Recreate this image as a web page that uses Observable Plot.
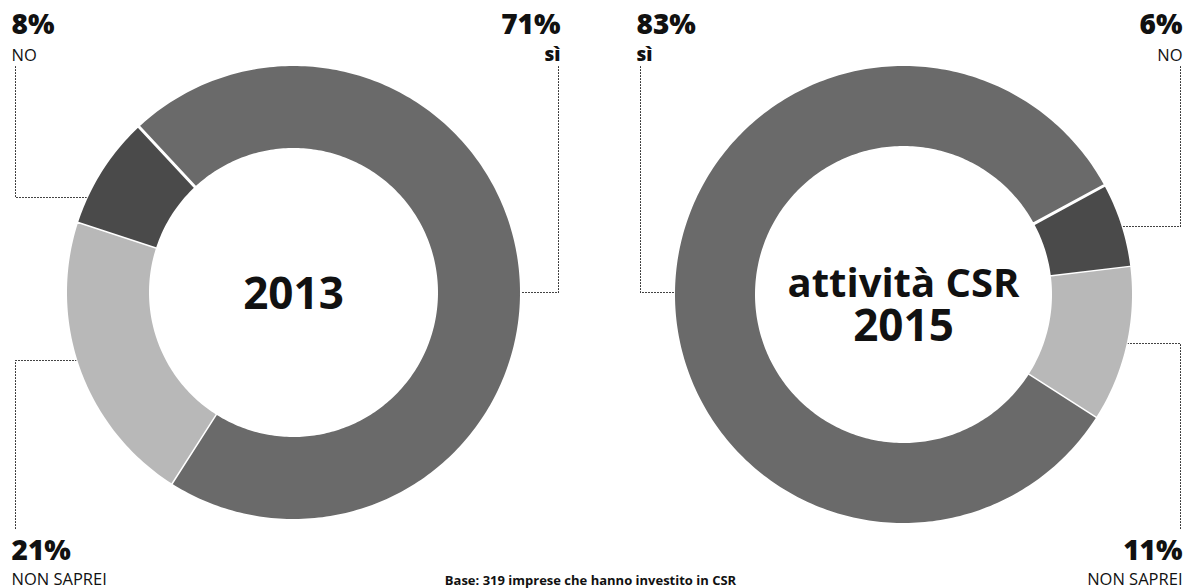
<!DOCTYPE html>
<html>
<head>
<meta charset="utf-8">
<script src="https://cdn.jsdelivr.net/npm/d3@7"></script>
<script src="https://cdn.jsdelivr.net/npm/@observablehq/plot@0.6"></script>
<style>
  html, body { margin: 0; padding: 0; background: #fff; }
  #chart svg { display: block; }
</style>
</head>
<body>
<div id="chart"></div>
<script>
// ---- data ----
const categories = ["sì", "NON SAPREI", "NO"];
const years = ["2013", "2015"];
const values2013 = [71, 21, 8];   // sì, NON SAPREI, NO
const values2015 = [83, 11, 6];   // sì, NON SAPREI, NO
const centerLabels = ["2013", "attività CSR\n2015"];
const caption = "Base: 319 imprese che hanno investito in CSR";

// ---- layout / style (kept apart from data) ----
const W = 1186, H = 588;
const colors = {"sì": "#6a6a6a", "NON SAPREI": "#b8b8b8", "NO": "#4a4a4a"};
const donutLayout = [
  {cx: 293, cy: 292, R: 228, r: 143, start: -43, order: ["sì", "NON SAPREI", "NO"]},
  {cx: 903, cy: 294, R: 230, r: 147, start: 61.5, order: ["NO", "NON SAPREI", "sì"]}
];
// label placement per donut & category
const labelLayout = [
  {
    "NO":         {x: 11,  anchor: "start", top: true,  lx: 15,  ly: 197, side: -1},
    "sì":         {x: 560, anchor: "end",   top: true,  lx: 558, ly: 292, side: 1},
    "NON SAPREI": {x: 11,  anchor: "start", top: false, lx: 15,  ly: 360, side: -1}
  },
  {
    "sì":         {x: 636, anchor: "start", top: true,  lx: 640,  ly: 292, side: -1},
    "NO":         {x: 1182, anchor: "end",  top: true,  lx: 1180, ly: 226, side: 1},
    "NON SAPREI": {x: 1182, anchor: "end",  top: false, lx: 1180, ly: 343, side: 1}
  }
];
const pctBaselineTop = 33, nameBaselineTop = 60;
const pctBaselineBottom = 559, nameBaselineBottom = 584;
const leaderTop = 66, leaderBottom = 528;

// ---- build geometry from the data ----
const allValues = [values2013, values2015];
const arcPoints = [];
const leaders = [];
const pctLabels = [];
const nameLabels = [];

years.forEach((year, i) => {
  const L = donutLayout[i];
  const vals = allValues[i];
  const total = d3.sum(vals);
  let a = L.start;
  for (const cat of L.order) {
    const v = vals[categories.indexOf(cat)];
    const span = v / total * 360;
    const a0 = a, a1 = a + span;
    const key = year + "-" + cat;
    const n = Math.max(2, Math.ceil(span));
    const toXY = (ang, rad) => {
      const t = ang * Math.PI / 180;
      return {x: L.cx + rad * Math.sin(t), y: L.cy - rad * Math.cos(t)};
    };
    for (let k = 0; k <= n; k++) arcPoints.push({key, fill: colors[cat], ...toXY(a0 + (a1 - a0) * k / n, L.R)});
    for (let k = n; k >= 0; k--) arcPoints.push({key, fill: colors[cat], ...toXY(a0 + (a1 - a0) * k / n, L.r)});
    a = a1;

    // labels
    const lab = labelLayout[i][cat];
    pctLabels.push({x: lab.x, y: lab.top ? pctBaselineTop : pctBaselineBottom, text: v + "%", anchor: lab.anchor});
    nameLabels.push({x: lab.x, y: lab.top ? nameBaselineTop : nameBaselineBottom, text: cat, anchor: lab.anchor});

    // leader: vertical from the label, then horizontal to the ring's outer edge
    const ex = L.cx + lab.side * Math.sqrt(L.R * L.R - (lab.ly - L.cy) ** 2);
    const vy = lab.top ? leaderTop : leaderBottom;
    leaders.push({key, x: lab.lx, y: vy});
    leaders.push({key, x: lab.lx, y: lab.ly});
    leaders.push({key, x: ex, y: lab.ly});
  }
});

// center labels, one row per line
const centerLineGap = 42;
const centers = [];
years.forEach((year, i) => {
  const lines = centerLabels[i].split("\n");
  lines.forEach((t, j) => {
    centers.push({
      x: donutLayout[i].cx,
      y: donutLayout[i].cy + 2 + (j - (lines.length - 1) / 2) * centerLineGap + (lines.length > 1 ? 9 : 0),
      text: t,
      size: /^\d+$/.test(t) ? 44 : 40
    });
  });
});

const font = "'Open Sans', 'Liberation Sans', sans-serif";
const isBoldName = d => d.text === "sì";

const chart = Plot.plot({
  width: W,
  height: H,
  margin: 0,
  x: {domain: [0, W], range: [0, W], axis: null},
  y: {domain: [0, H], range: [0, H], axis: null},
  color: {type: "identity"},
  style: {fontFamily: font, background: "#fff", color: "#111"},
  marks: [
    Plot.line(arcPoints, {x: "x", y: "y", z: "key", fill: "fill", stroke: "#fff", strokeWidth: 3, curve: "linear"}),
    Plot.line(leaders, {x: "x", y: "y", z: "key", stroke: "#333", strokeWidth: 1.1, strokeDasharray: "1 2", curve: "linear"}),
    Plot.text(pctLabels.filter(d => d.anchor === "start"), {x: "x", y: "y", text: "text", textAnchor: "start", lineAnchor: "bottom", fontSize: 28, fontWeight: 800, fill: "#111"}),
    Plot.text(pctLabels.filter(d => d.anchor === "end"), {x: "x", y: "y", text: "text", textAnchor: "end", lineAnchor: "bottom", fontSize: 28, fontWeight: 800, fill: "#111"}),
    Plot.text(nameLabels.filter(d => d.anchor === "start" && !isBoldName(d)), {x: "x", y: "y", text: "text", textAnchor: "start", lineAnchor: "bottom", fontSize: 16.5, fontWeight: 400, fill: "#111"}),
    Plot.text(nameLabels.filter(d => d.anchor === "end" && !isBoldName(d)), {x: "x", y: "y", text: "text", textAnchor: "end", lineAnchor: "bottom", fontSize: 16.5, fontWeight: 400, fill: "#111"}),
    Plot.text(nameLabels.filter(d => d.anchor === "start" && isBoldName(d)), {x: "x", y: "y", text: "text", textAnchor: "start", lineAnchor: "bottom", fontSize: 19, fontWeight: 800, fill: "#111"}),
    Plot.text(nameLabels.filter(d => d.anchor === "end" && isBoldName(d)), {x: "x", y: "y", text: "text", textAnchor: "end", lineAnchor: "bottom", fontSize: 19, fontWeight: 800, fill: "#111"}),
    Plot.text(centers, {x: "x", y: "y", text: "text", textAnchor: "middle", lineAnchor: "middle", fontSize: "size", fontWeight: 700, fill: "#111"}),
    Plot.text([caption], {x: () => 590, y: () => 584, text: d => d, textAnchor: "middle", lineAnchor: "bottom", fontSize: 13, fontWeight: 700, fill: "#111"})
  ]
});
document.getElementById("chart").appendChild(chart);
</script>
</body>
</html>
